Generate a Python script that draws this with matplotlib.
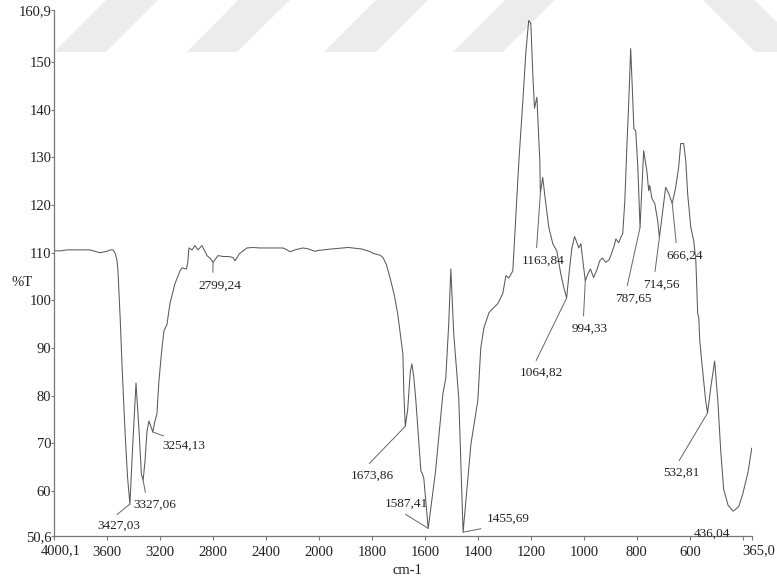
import numpy as np
import matplotlib
matplotlib.use("Agg")
import matplotlib.pyplot as plt
from matplotlib.patches import Polygon

plt.rcParams['font.family'] = ['Liberation Serif', 'DejaVu Serif']

# IR spectrum: wavenumber (cm-1) vs %T
wavenumber = [
    4000.1, 3950, 3900, 3800, 3730, 3680, 3653, 3620, 3600, 3575, 3555, 3540,
    3525, 3517, 3500, 3487, 3464, 3445, 3427.03, 3405, 3381, 3358, 3340,
    3327.06, 3313, 3298, 3283, 3268, 3254.13, 3240, 3223, 3208, 3185, 3170,
    3147, 3125, 3087, 3049, 3034, 3000, 2990, 2981, 2958, 2936, 2913, 2883,
    2845, 2820, 2799.24, 2762, 2720, 2680, 2649, 2634, 2600, 2543, 2500, 2445,
    2350, 2272, 2240, 2219, 2180, 2121, 2080, 2030, 2000, 1950, 1890, 1840,
    1810, 1792, 1770, 1758, 1745, 1728, 1715, 1702, 1683, 1679, 1673.86, 1665,
    1655, 1649, 1642, 1634, 1615, 1610, 1604, 1587.41, 1560, 1532, 1521, 1510,
    1502, 1491, 1472, 1455.69, 1426, 1400, 1389, 1377, 1358, 1340, 1325, 1306,
    1294, 1283, 1268, 1257, 1245, 1230, 1219, 1208, 1200, 1192, 1186, 1177,
    1172, 1166, 1163.84, 1155, 1145, 1132, 1117, 1102, 1087, 1075, 1064.82,
    1055, 1045, 1035, 1025, 1019, 1011, 1005, 994.33, 985, 975, 963, 950, 940,
    930, 917, 905, 898, 885, 879, 868, 858, 853, 845, 838, 830, 823, 815, 811,
    804, 796, 787.65, 777, 774, 762, 755, 751, 743, 732, 721, 714.56, 702, 691,
    679, 666.24, 653, 642, 634, 623, 615, 608, 596, 585, 577, 570, 566, 562,
    555, 540, 532.81, 520, 506, 494, 483, 472, 455, 445, 436.04, 425, 415, 400,
    380, 366,
]
transmittance = [
    110.4, 110.4, 110.6, 110.6, 110.6, 110.2, 110.0, 110.2, 110.3, 110.6, 110.6, 110.0,
    108.5, 106.2, 96.0, 86.7, 72.6, 63.0, 57.3, 70.0, 82.7, 72.6, 63.5,
    62.3, 66.3, 72.6, 74.7, 73.5, 72.4, 74.5, 76.2, 83.1, 90.0, 93.6,
    95.0, 99.3, 103.5, 106.2, 106.8, 106.6, 108.0, 111.0, 110.6, 111.5, 110.6, 111.5,
    109.4, 108.8, 108.0, 109.4, 109.2, 109.2, 109.0, 108.3, 109.8, 111.0, 111.1, 111.0,
    111.0, 111.0, 110.6, 110.2, 110.6, 111.0, 110.8, 110.3, 110.5, 110.8, 111.1, 110.8,
    110.3, 109.8, 109.5, 109.0, 107.5, 104.0, 101.0, 97.0, 88.8, 80.0, 73.6, 77.0,
    85.0, 86.7, 84.0, 79.0, 64.2, 63.8, 62.7, 52.2, 64.0, 80.4, 83.7, 95.0,
    106.6, 93.0, 79.5, 51.4, 69.9, 79.0, 90.0, 94.3, 97.4, 98.5, 99.3, 101.4,
    105.2, 104.7, 106.2, 117.4, 129.3, 141.9, 151.8, 158.7, 158.1, 146.8, 140.3, 142.6,
    136.3, 129.3, 122.6, 125.8, 121.0, 115.3, 111.9, 110.4, 105.6, 102.6, 100.5,
    106.0, 111.0, 113.4, 112.0, 111.0, 111.9, 109.0, 104.1, 105.5, 106.6, 104.8, 106.5, 108.3,
    108.9, 108.0, 108.5, 109.4, 111.5, 112.9, 112.1, 113.5, 114.0, 121.0, 131.4, 142.0, 152.8, 142.0, 136.0,
    135.6, 127.9, 115.3, 127.9, 131.4, 127.2, 123.0, 124.1, 121.4, 120.3, 116.7, 113.2, 118.8, 123.7,
    122.4, 120.3, 123.7, 127.9, 132.9, 132.9, 129.3, 122.4, 115.3, 112.5, 108.3, 97.2, 96.4, 91.5,
    87.3, 79.0, 76.4, 82.0, 87.3, 79.0, 68.4, 60.4, 57.0, 56.4, 55.8, 56.3, 56.8, 59.4,
    64.0, 69.0,
]

# labelled bands
peak_positions = [3427.03, 3327.06, 3254.13, 2799.24, 1673.86, 1587.41, 1455.69,
                  1163.84, 1064.82, 994.33, 787.65, 714.56, 666.24, 532.81, 436.04]

x_ticks = [4000.1, 3600, 3200, 2800, 2400, 2000, 1800, 1600, 1400, 1200, 1000, 800, 600, 400, 365.0]
x_ticklabels = ['', '3600', '3200', '2800', '2400', '2000', '1800', '1600', '1400',
                '1200', '1000', '800', '600', '', '']
x_end_labels = ['4000,1', '365,0']
y_ticks = [50.6, 60, 70, 80, 90, 100, 110, 120, 130, 140, 150, 160.9]
y_ticklabels = ['50,6', '60', '70', '80', '90', '100', '110', '120', '130', '140', '150', '160,9']

# text offset (px) and leader start on the text box for each label
label_layout = [
    (-11, -22, (0.3, 1.0)), (12, -25, (0.3, 1.0)), (31, -14, (0.3, 1.0)),
    (7, -23, (0.33, 1.0)), (-33, -49, (0.3, 1.0)), (-22, 25, (0.3, 0.0)),
    (45, 13, (0.3, 0.0)), (3, -68, (0.33, 1.0)), (-25, -75, (0.3, 1.0)),
    (4, -48, (0.33, 1.0)), (-7, -71, (0.3, 1.0)), (2, -47, (0.3, 1.0)),
    (12, -52, (0.3, 1.0)), (-26, -60, (0.33, 1.0)), (-21, -23, None),
]


def fwd(x):
    # compressed scale above 2000 cm-1
    x = np.asarray(x, dtype=float)
    return np.where(x > 2000, 2000 + (x - 2000) / 2.0, x)


def inv(u):
    u = np.asarray(u, dtype=float)
    return np.where(u > 2000, 2000 + (u - 2000) * 2.0, u)


W, H = 777, 583
fig = plt.figure(figsize=(W / 100, H / 100), dpi=100)
ax = fig.add_axes([54 / W, 1 - 536 / H, (752 - 54) / W, (536 - 10) / H])
ax.patch.set_visible(False)

# light background bands along the top edge
bands = [
    [(54, 52), (106, 52), (158, 0), (106, 0)],
    [(187, 52), (237, 52), (290, 0), (238, 0)],
    [(324, 52), (376, 52), (428, 0), (376, 0)],
    [(453, 52), (503, 52), (555, 0), (505, 0)],
    [(703, 0), (755, 0), (807, 52), (755, 52)],
]
for b in bands:
    pts = [(px / W, 1 - py / H) for px, py in b]
    fig.add_artist(Polygon(pts, closed=True, transform=fig.transFigure,
                           facecolor='#ececec', edgecolor='none', zorder=-5))

ax.set_xscale('function', functions=(fwd, inv))
ax.plot(wavenumber, transmittance, color='#5a5a5a', lw=0.75)
ax.set_xlim(4000.1, 365.0)
ax.set_ylim(50.6, 160.9)

ax.set_xticks(x_ticks)
ax.set_xticklabels(x_ticklabels)
ax.set_yticks(y_ticks)
ax.set_yticklabels(y_ticklabels)
ax.minorticks_off()

# end labels sit a little to the right of their ticks
for xv, lab in zip([x_ticks[0], x_ticks[-1]], x_end_labels):
    ax.annotate(lab, xy=(xv, 0), xycoords=('data', 'axes fraction'),
                xytext=(7, -8.6), textcoords='offset pixels', ha='center', va='top',
                fontsize=10.5, color='#222222', annotation_clip=False)

for side in ['top', 'right']:
    ax.spines[side].set_visible(False)
for side in ['left', 'bottom']:
    ax.spines[side].set_color('#777777')
    ax.spines[side].set_linewidth(0.9)

ax.tick_params(axis='x', direction='out', length=3, width=0.8, color='#777777',
               labelsize=10.5, pad=4, labelcolor='#222222')
ax.tick_params(axis='y', direction='out', length=2, width=0.8, color='#777777',
               labelsize=10.5, pad=0, labelcolor='#222222')

for wn, (dx, dy, rel) in zip(peak_positions, label_layout):
    t = float(np.interp(wn, wavenumber[::-1], transmittance[::-1]))
    txt = f"{wn:.2f}".replace('.', ',')
    props = None
    if rel is not None:
        props = dict(arrowstyle='-', color='#666666', lw=0.7,
                     shrinkA=3, shrinkB=0, relpos=rel)
    ax.annotate(txt, xy=(wn, t), xytext=(dx, dy), textcoords='offset pixels',
                ha='center', va='center', fontsize=9.5, color='#222222',
                arrowprops=props)

fig.text(22 / W, 1 - 283 / H, '%T', ha='center', va='center', fontsize=10.5, color='#222222')
fig.text(407 / W, 1 - 571 / H, 'cm-1', ha='center', va='center', fontsize=10.5, color='#222222')

fig.savefig('out.png', dpi=100)
